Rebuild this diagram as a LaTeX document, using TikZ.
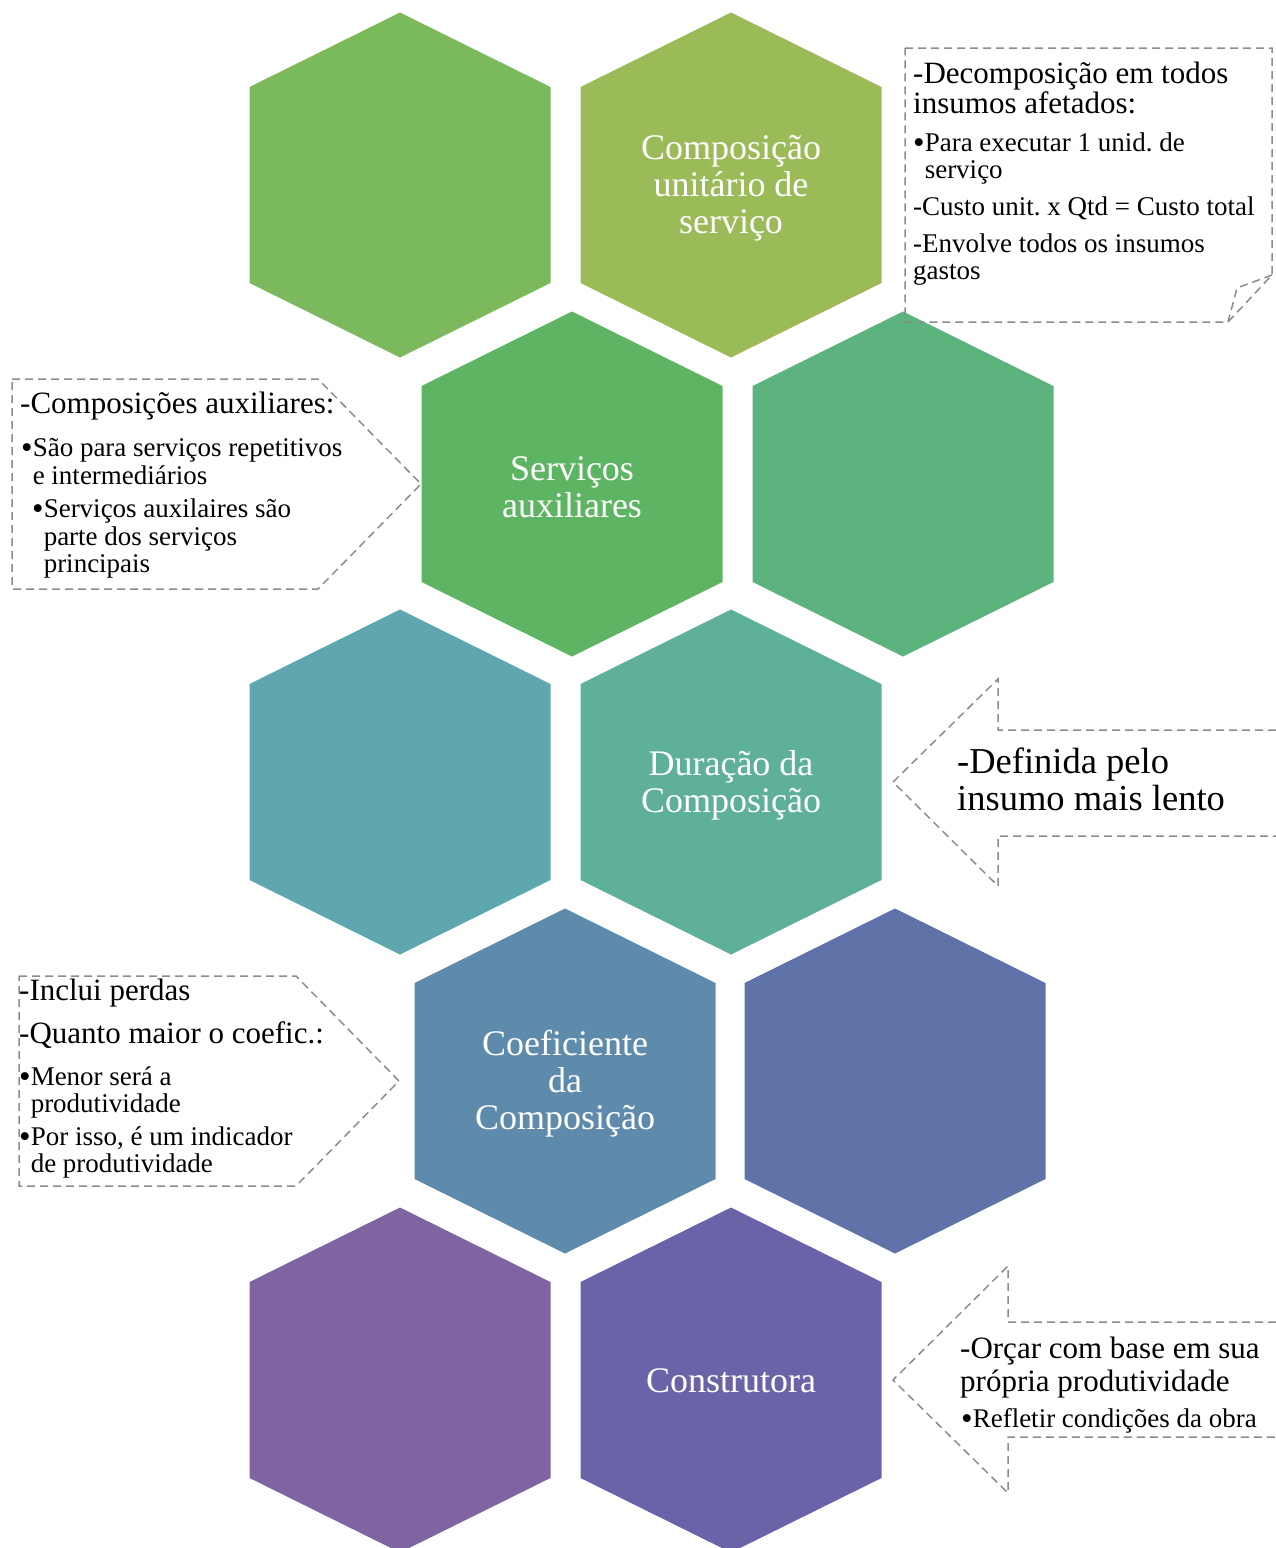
\documentclass[tikz,border=0pt]{standalone}
\usepackage{fontspec}
\setmainfont{Liberation Serif}
\frenchspacing

\definecolor{hexA}{HTML}{7AB95C}
\definecolor{hexB}{HTML}{9BBB59}
\definecolor{hexC}{HTML}{5DB462}
\definecolor{hexD}{HTML}{5DB37E}
\definecolor{hexE}{HTML}{5FA7AF}
\definecolor{hexF}{HTML}{5EB09B}
\definecolor{hexG}{HTML}{5E8BAB}
\definecolor{hexH}{HTML}{6073A9}
\definecolor{hexI}{HTML}{8064A2}
\definecolor{hexJ}{HTML}{6B63A7}
\definecolor{dashgray}{HTML}{8C8C8C}

\newcommand{\blt}{\raisebox{-2.5pt}{\fontsize{33}{33}\selectfont •}}
\newcommand{\hangsp}{\phantom{\blt}}

% multi-line text nodes: base west sits on the baseline of the last line
\tikzset{
  hexlabel/.style={text=white, align=center, inner sep=0pt, font=\fontsize{36}{37}\selectfont},
  bigtxt/.style={anchor=base west, align=left, inner sep=0pt, font=\fontsize{31}{28}\selectfont},
  smalltxt/.style={anchor=base west, align=left, inner sep=0pt, font=\fontsize{27}{27}\selectfont},
  hugetxt/.style={anchor=base west, align=left, inner sep=0pt, font=\fontsize{36.5}{37}\selectfont},
  callout/.style={draw=dashgray, line width=1.5pt, dash pattern=on 8pt off 5pt}
}

\begin{document}
\begin{tikzpicture}[x=1pt,y=-1pt]
    \useasboundingbox (0,0) rectangle (1275,1548);

    % honeycomb
    \foreach \cx/\cy/\col in {400/185/hexA, 731/185/hexB, 572/484/hexC, 903/484/hexD,
                              400/782/hexE, 731/782/hexF, 565/1081/hexG, 895/1081/hexH,
                              400/1380/hexI, 731/1380/hexJ}
      \fill[\col] (\cx,\cy) ++(0,-172.5) -- ++(150.5,74.5) -- ++(0,196)
                  -- ++(-150.5,74.5) -- ++(-150.5,-74.5) -- ++(0,-196) -- cycle;

    \node[hexlabel] (comp) at (731,188) {Composição\\unitário de\\serviço};
    \node[hexlabel] (aux)  at (572,487) {Serviços\\auxiliares};
    \node[hexlabel] (dur)  at (731,785) {Duração da\\Composição};
    \node[hexlabel] (coef) at (565,1084) {Coeficiente\\da\\Composição};
    \node[hexlabel] (cons) at (731,1381) {Construtora};

    % callout shapes
    \draw[callout] (905,48) -- (1272,48) -- (1272,275) -- (1228,322) -- (905,322) -- cycle;
    \draw[callout] (1272,275) -- (1237,288) -- (1228,322);
    \draw[callout] (12,379) -- (318,379) -- (421,484) -- (318,589) -- (12,589) -- cycle;
    \draw[callout] (1276,730) -- (998,730) -- (998,679) -- (893,782) -- (998,886) -- (998,836) -- (1276,836);
    \draw[callout] (19,976) -- (296,976) -- (399,1081) -- (296,1186) -- (19,1186) -- cycle;
    \draw[callout] (1276,1322) -- (1008,1322) -- (1008,1266) -- (893,1380) -- (1008,1493) -- (1008,1437) -- (1276,1437);

    % texts of composicao
    \node[bigtxt]   (c1a) at (913,113) {-Decomposição em todos\\insumos afetados:};
    \node[smalltxt] (c1b) at (913,178) {\blt Para executar 1 unid. de\\\hangsp serviço};
    \node[smalltxt] (c1c) at (913,215) {-Custo unit. x Qtd = Custo total};
    \node[smalltxt] (c1d) at (913,279) {-Envolve todos os insumos\\gastos};

    % texts of servicos auxiliares
    \node[bigtxt]   (c2a) at (20,413) {-Composições auxiliares:};
    \node[smalltxt] (c2b) at (21,484) {\blt São para serviços repetitivos\\[1pt]\hangsp e intermediários};
    \node[smalltxt] (c2c) at (32,572) {\blt Serviços auxilaires são\\[1pt]\hangsp parte dos serviços\\\hangsp principais};

    % texts of duracao
    \node[hugetxt] (c3a) at (957,810) {-Definida pelo\\insumo mais lento};

    % texts of coeficiente
    \node[bigtxt]   (c4a) at (19,1000) {-Inclui perdas};
    \node[bigtxt]   (c4b) at (19,1043) {-Quanto maior o coefic.:};
    \node[smalltxt] (c4c) at (19,1112) {\blt Menor será a\\\hangsp produtividade};
    \node[smalltxt] (c4d) at (19,1172) {\blt Por isso, é um indicador\\\hangsp de produtividade};

    % texts of construtora
    \node[bigtxt]   (c5a) at (960,1391) {-Orçar com base em sua\\[3pt]própria produtividade};
    \node[smalltxt] (c5b) at (961,1427) {\blt Refletir condições da obra};
\end{tikzpicture}
\end{document}
